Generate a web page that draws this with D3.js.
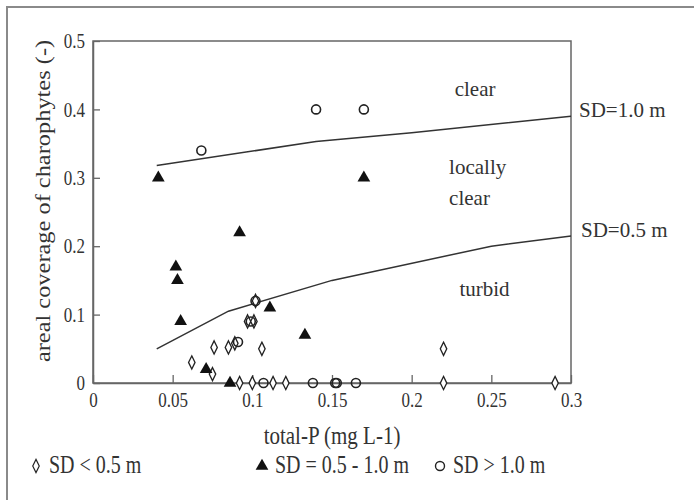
<!DOCTYPE html>
<html>
<head>
<meta charset="utf-8">
<script src="https://cdn.jsdelivr.net/npm/d3@7"></script>
<style>
  body { margin: 0; background: #fff; }
  text { font-family: "Liberation Serif", "Times New Roman", serif; fill: #333; }
</style>
</head>
<body>
<div id="chart"></div>
<script>
// points
const diamondX = [0.062, 0.076, 0.085, 0.075, 0.089, 0.097, 0.101, 0.102, 0.106, 0.22, 0.092, 0.1, 0.113, 0.121, 0.22, 0.29];
const diamondY = [0.03, 0.052, 0.052, 0.013, 0.058, 0.09, 0.09, 0.12, 0.05, 0.05, 0, 0, 0, 0, 0, 0];

const triangleX = [0.041, 0.052, 0.053, 0.055, 0.092, 0.071, 0.086, 0.111, 0.133, 0.17];
const triangleY = [0.30, 0.17, 0.15, 0.09, 0.22, 0.02, 0, 0.11, 0.07, 0.30];

const circleX = [0.068, 0.14, 0.17, 0.102, 0.099, 0.091, 0.107, 0.138, 0.152, 0.153, 0.165];
const circleY = [0.34, 0.40, 0.40, 0.12, 0.09, 0.06, 0, 0, 0, 0, 0];

// boundary lines
const sd10X = [0.04, 0.14, 0.2, 0.3];
const sd10Y = [0.318, 0.353, 0.366, 0.39];
const sd05X = [0.04, 0.085, 0.15, 0.25, 0.3];
const sd05Y = [0.05, 0.105, 0.15, 0.2, 0.215];

const xTicks = [0, 0.05, 0.1, 0.15, 0.2, 0.25, 0.3];
const xTickLabels = ["0", "0.05", "0.1", "0.15", "0.2", "0.25", "0.3"];
const yTicks = [0, 0.1, 0.2, 0.3, 0.4, 0.5];
const yTickLabels = ["0", "0.1", "0.2", "0.3", "0.4", "0.5"];

const legendLabels = ["SD < 0.5 m", "SD = 0.5 - 1.0 m", "SD > 1.0 m"];

const margin = {top: 41, right: 123, bottom: 117, left: 93};
const W = 694, H = 500;
const width = W - margin.left - margin.right;
const height = H - margin.top - margin.bottom;
const stretch = 1.22;

const svg = d3.select("#chart").append("svg")
    .attr("width", W)
    .attr("height", H);

// frame of the figure (only top and left visible)
svg.append("path")
    .attr("d", `M7,${H} L7,7 L${W},7`)
    .attr("fill", "none")
    .attr("stroke", "#8a8a8a")
    .attr("stroke-width", 2);

const g = svg.append("g")
    .attr("transform", `translate(${margin.left},${margin.top})`);

const x = d3.scaleLinear().domain([0, 0.3]).range([0, width]);
const y = d3.scaleLinear().domain([0, 0.5]).range([height, 0]);

// plot box
g.append("rect")
    .attr("width", width)
    .attr("height", height)
    .attr("fill", "none")
    .attr("stroke", "#666")
    .attr("stroke-width", 1.5);

// helper: put a text vertically stretched like the scanned figure
function stretchText(sel) {
    sel.each(function() {
        const t = d3.select(this);
        const tx = +t.attr("x") || 0, ty = +t.attr("y") || 0;
        t.attr("x", 0).attr("y", 0)
         .attr("transform", `translate(${tx},${ty}) scale(1,${stretch})`);
    });
}

// x axis
const xAxis = g.append("g")
    .attr("transform", `translate(0,${height})`)
    .call(d3.axisBottom(x).tickValues(xTicks)
        .tickFormat((d, i) => xTickLabels[i])
        .tickSizeInner(-8).tickSizeOuter(0).tickPadding(9));
xAxis.select(".domain").attr("stroke", "#666").attr("stroke-width", 1.5);
xAxis.selectAll(".tick line").attr("stroke", "#666").attr("stroke-width", 1.3);
xAxis.selectAll("text").attr("font-size", 17).attr("fill", "#333")
    .attr("font-family", "Liberation Serif").call(stretchText);

// y axis
const yAxis = g.append("g")
    .call(d3.axisLeft(y).tickValues(yTicks)
        .tickFormat((d, i) => yTickLabels[i])
        .tickSizeInner(-7).tickSizeOuter(0).tickPadding(8));
yAxis.select(".domain").attr("stroke", "#666").attr("stroke-width", 1.5);
yAxis.selectAll(".tick line").attr("stroke", "#666").attr("stroke-width", 1.3);
yAxis.selectAll("text").attr("font-size", 17).attr("fill", "#333")
    .attr("font-family", "Liberation Serif").call(stretchText);

// axis titles
svg.append("text")
    .attr("transform", `translate(${margin.left + width / 2},${H - 56}) scale(1,${stretch})`)
    .attr("text-anchor", "middle")
    .attr("font-size", 21)
    .text("total-P (mg L-1)");

svg.append("text")
    .attr("transform", `translate(50,201) scale(1,${stretch}) rotate(-90)`)
    .attr("text-anchor", "middle")
    .attr("font-size", 20)
    .text("areal coverage of charophytes (-)");

// boundary lines
const line = d3.line().x(d => x(d[0])).y(d => y(d[1]));
g.append("path")
    .attr("d", line(d3.zip(sd10X, sd10Y)))
    .attr("fill", "none").attr("stroke", "#333").attr("stroke-width", 1.5);
g.append("path")
    .attr("d", line(d3.zip(sd05X, sd05Y)))
    .attr("fill", "none").attr("stroke", "#333").attr("stroke-width", 1.5);

// region labels
const regions = [["clear", 0.227, 0.42], ["locally", 0.2235, 0.305], ["clear", 0.2235, 0.26], ["turbid", 0.23, 0.127]];
g.selectAll(".region").data(regions).join("text")
    .attr("class", "region")
    .attr("x", d => x(d[1])).attr("y", d => y(d[2]))
    .attr("font-size", 21)
    .text(d => d[0]);

// line labels
g.append("text").attr("x", width + 8).attr("y", y(0.39) + 1).attr("font-size", 21).text("SD=1.0 m");
g.append("text").attr("x", width + 10).attr("y", y(0.215) + 1).attr("font-size", 21).text("SD=0.5 m");

// markers
const diamond = d3.symbol().type(d3.symbolDiamond).size(50);
const triangle = d3.symbol().type(d3.symbolTriangle).size(70);

g.selectAll(".dia").data(d3.zip(diamondX, diamondY)).join("path")
    .attr("class", "dia")
    .attr("transform", d => `translate(${x(d[0])},${y(d[1])}) scale(0.85,1)`)
    .attr("d", diamond)
    .attr("fill", "#fff").attr("stroke", "#222").attr("stroke-width", 1.5);

g.selectAll(".cir").data(d3.zip(circleX, circleY)).join("circle")
    .attr("class", "cir")
    .attr("cx", d => x(d[0])).attr("cy", d => y(d[1]))
    .attr("r", 4.5)
    .attr("fill", "none").attr("stroke", "#222").attr("stroke-width", 1.6);

g.selectAll(".tri").data(d3.zip(triangleX, triangleY)).join("path")
    .attr("class", "tri")
    .attr("transform", d => `translate(${x(d[0])},${y(d[1])})`)
    .attr("d", triangle)
    .attr("fill", "#111");

// legend
const leg = svg.append("g").attr("transform", `translate(0,466)`);
const legX = [36, 262, 440];
leg.append("path").attr("transform", `translate(${legX[0]},0) scale(0.85,1)`).attr("d", diamond)
    .attr("fill", "#fff").attr("stroke", "#222").attr("stroke-width", 1.4);
leg.append("path").attr("transform", `translate(${legX[1]},0)`).attr("d", triangle).attr("fill", "#111");
leg.append("circle").attr("cx", legX[2]).attr("cy", 0).attr("r", 4.5)
    .attr("fill", "none").attr("stroke", "#222").attr("stroke-width", 1.4);
leg.selectAll(".lt").data(legendLabels).join("text")
    .attr("class", "lt")
    .attr("transform", (d, i) => `translate(${legX[i] + 13},7) scale(1,${stretch})`)
    .attr("font-size", 20)
    .text(d => d);
</script>
</body>
</html>
